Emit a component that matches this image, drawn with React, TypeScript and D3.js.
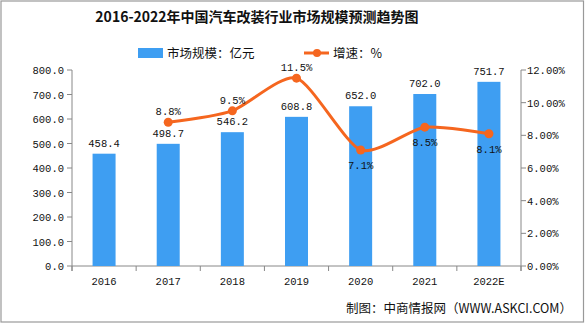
import React from "react";
import * as d3 from "d3";

const categories = ["2016", "2017", "2018", "2019", "2020", "2021", "2022E"];
const marketSize = [458.4, 498.7, 546.2, 608.8, 652.0, 702.0, 751.7];
const growth = [null, 8.8, 9.5, 11.5, 7.1, 8.5, 8.1];
const leftTicks = [0, 100, 200, 300, 400, 500, 600, 700, 800];
const rightTicks = [0, 2, 4, 6, 8, 10, 12];
const growthLabelBelow = [false, false, false, false, true, true, true];

const W = 585, H = 323;
const M = { left: 72, right: 521, top: 70, bottom: 266 };
const BAR = "#3e9ef2";
const LINE = "#f5661f";
const NUM_FONT = "'Liberation Mono', 'DejaVu Sans Mono', monospace";
const CJK = "'Noto Sans CJK SC', sans-serif";

export default function App() {
  const x = d3.scaleBand().domain(categories).range([M.left, M.right]).paddingInner(0).paddingOuter(0);
  const yL = d3.scaleLinear().domain([0, 800]).range([M.bottom, M.top]);
  const yR = d3.scaleLinear().domain([0, 12]).range([M.bottom, M.top]);
  const bw = 23;
  const cx = (c: string) => (x(c) as number) + x.bandwidth() / 2;

  const pts = categories
    .map((c, i) => ({ c, v: growth[i], i }))
    .filter((d) => d.v !== null) as { c: string; v: number; i: number }[];
  const line = d3
    .line<{ c: string; v: number }>()
    .x((d) => cx(d.c))
    .y((d) => yR(d.v))
    .curve(d3.curveCardinal.tension(0.3));

  return (
    <svg width={W} height={H} style={{ position: "absolute", left: 0, top: 0, background: "#fff" }}>
      <rect x={1} y={1} width={W - 2.5} height={H - 2} fill="#fff" stroke="#999" strokeWidth={1.2} />
      <text x={257} y={22} textAnchor="middle" fontFamily={CJK} fontWeight="bold" fontSize={14} fill="#111">
        2016-2022年中国汽车改装行业市场规模预测趋势图
      </text>
      {/* legend */}
      <rect x={138} y={48} width={25} height={10} fill={BAR} />
      <text x={167} y={57.5} fontFamily={CJK} fontSize={12.5} fill="#111">市场规模：亿元</text>
      <line x1={304} x2={329} y1={53} y2={53} stroke={LINE} strokeWidth={3} />
      <circle cx={317} cy={53} r={4} fill={LINE} />
      <text x={333} y={57.5} fontFamily={CJK} fontSize={12.5} fill="#111">增速：%</text>

      {/* left axis */}
      <line x1={M.left} x2={M.left} y1={M.top} y2={M.bottom + 5} stroke="#888" />
      {leftTicks.map((t) => (
        <g key={"l" + t}>
          <line x1={M.left - 5} x2={M.left} y1={yL(t)} y2={yL(t)} stroke="#888" />
          <text x={M.left - 8} y={yL(t) + 4} textAnchor="end" fontFamily={NUM_FONT} fontSize={10.5} fill="#111">
            {t.toFixed(1)}
          </text>
        </g>
      ))}
      {/* right axis */}
      <line x1={M.right} x2={M.right} y1={M.top} y2={M.bottom + 5} stroke="#888" />
      {rightTicks.map((t) => (
        <g key={"r" + t}>
          <line x1={M.right} x2={M.right + 5} y1={yR(t)} y2={yR(t)} stroke="#888" />
          <text x={M.right + 6} y={yR(t) + 4} fontFamily={NUM_FONT} fontSize={10.5} fill="#111">
            {t.toFixed(2)}%
          </text>
        </g>
      ))}
      {/* x axis */}
      <line x1={M.left} x2={M.right} y1={M.bottom} y2={M.bottom} stroke="#888" />
      {categories.map((c) => (
        <line key={"xt" + c} x1={x(c) as number} x2={x(c) as number} y1={M.bottom} y2={M.bottom + 5} stroke="#888" />
      ))}
      <line x1={M.right} x2={M.right} y1={M.bottom} y2={M.bottom + 5} stroke="#888" />
      {categories.map((c) => (
        <text key={"xl" + c} x={cx(c)} y={285} textAnchor="middle" fontFamily={NUM_FONT} fontSize={10.5} fill="#111">
          {c}
        </text>
      ))}

      {/* bars */}
      {categories.map((c, i) => (
        <g key={"b" + c}>
          <rect x={cx(c) - bw / 2} y={yL(marketSize[i])} width={bw} height={M.bottom - yL(marketSize[i])} fill={BAR} />
          <text x={cx(c)} y={yL(marketSize[i]) - 7} textAnchor="middle" fontFamily={NUM_FONT} fontSize={10.5} fill="#111">
            {marketSize[i].toFixed(1)}
          </text>
        </g>
      ))}

      {/* line */}
      <path d={line(pts) as string} fill="none" stroke={LINE} strokeWidth={3} />
      {pts.map((d) => (
        <g key={"p" + d.c}>
          <circle cx={cx(d.c)} cy={yR(d.v)} r={4.5} fill={LINE} />
          <text
            x={cx(d.c)}
            y={growthLabelBelow[d.i] ? yR(d.v) + 19 : yR(d.v) - 7}
            textAnchor="middle"
            fontFamily={NUM_FONT}
            fontSize={10.5}
            fill="#111"
          >
            {d.v.toFixed(1)}%
          </text>
        </g>
      ))}

      <text x={572} y={313} textAnchor="end" fontFamily={CJK} fontSize={12.5} fill="#111">
        制图：中商情报网（WWW.ASKCI.COM）
      </text>
    </svg>
  );
}
